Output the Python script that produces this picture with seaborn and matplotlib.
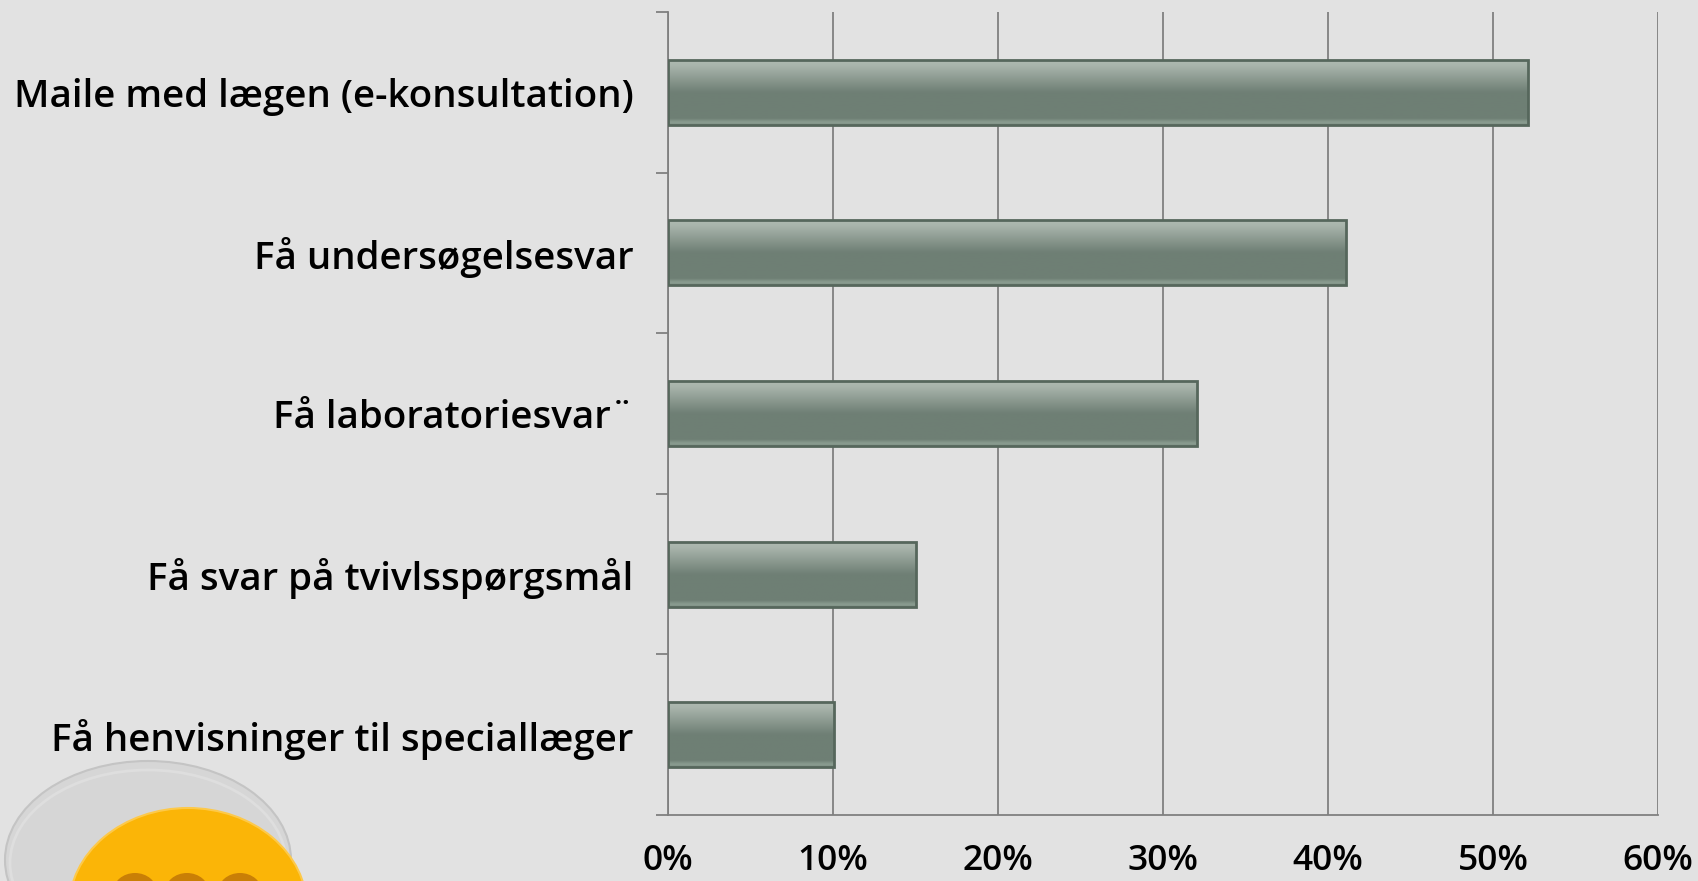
import numpy as np
import pandas as pd
import matplotlib
matplotlib.use("Agg")
import matplotlib.pyplot as plt
import seaborn as sb
from matplotlib.colors import LinearSegmentedColormap
from matplotlib.patches import Ellipse
from matplotlib.ticker import FixedLocator

categories = ["Maile med lægen (e-konsultation)", "Få undersøgelsesvar", "Få laboratoriesvar¨",
              "Få svar på tvivlsspørgsmål", "Få henvisninger til speciallæger"]
values = [52.1, 41.1, 32.05, 15.05, 10.05]
xticks = [0, 10, 20, 30, 40, 50, 60]

W, H = 1698, 881
BG = "#e2e2e2"
GRID = "#808080"

sb.set_theme(style="white")
plt.rcParams["font.family"] = ["Open Sans", "DejaVu Sans"]

df = pd.DataFrame({"category": categories, "value": values})

fig = plt.figure(figsize=(W / 100, H / 100), dpi=100, facecolor=BG)
ax = fig.add_axes([668 / W, 1 - 815 / H, 990 / W, 803 / H])
ax.set_facecolor("none")

sb.barplot(data=df, x="value", y="category", color="#6e7f74", width=0.405, ax=ax,
           edgecolor="#56675c", linewidth=2, zorder=3)

# glossy bar fill
barCmap = LinearSegmentedColormap.from_list("bar", [(0, "#b0bbb2"), (0.1, "#a8b4ab"), (0.5, "#6f7f75"),
                                                    (0.9, "#6e7f74"), (0.96, "#8a9c90"), (1, "#7f9185")])
grad = np.linspace(0, 1, 128).reshape(-1, 1)
for bar in ax.patches:
  im = ax.imshow(grad, cmap=barCmap, aspect="auto", zorder=2.9,
                 extent=[bar.get_x(), bar.get_x() + bar.get_width(),
                         bar.get_y() + bar.get_height(), bar.get_y()])
  im.set_clip_path(bar)
  bar.set_facecolor("none")

ax.set_xlim(0, 60)
ax.set_ylim(4.5, -0.5)
ax.set_xlabel("")
ax.set_ylabel("")

ax.set_xticks(xticks)
ax.set_xticklabels([f"{v}%" for v in xticks])
ax.grid(axis="x", color=GRID, linewidth=1.3, zorder=1)
ax.yaxis.set_minor_locator(FixedLocator(np.arange(-0.5, 5, 1)))
ax.tick_params(axis="y", which="major", length=0, pad=25, labelsize=27.7, labelcolor="black")
ax.tick_params(axis="y", which="minor", left=True, length=8.5, width=1.3, color=GRID)
ax.tick_params(axis="x", length=0, pad=21, labelsize=25.5, labelcolor="black")
for label in ax.get_yticklabels() + ax.get_xticklabels():
  label.set_fontweight("semibold")

sb.despine(ax=ax, top=True, right=True)
ax.spines["left"].set_color(GRID)
ax.spines["bottom"].set_color(GRID)
ax.spines["left"].set_linewidth(1.3)
ax.spines["bottom"].set_linewidth(1.3)

# speech bubble picture in the corner, in pixel coordinates
deco = fig.add_axes([0, 0, 1, 1], zorder=5)
deco.set_xlim(0, W)
deco.set_ylim(H, 0)
deco.axis("off")
deco.add_patch(Ellipse((148, 860), 286, 198, facecolor="#d6d6d6", edgecolor="#c4c4c4", linewidth=1.5))
deco.add_patch(Ellipse((148, 863), 276, 186, facecolor="none", edgecolor="#dedede", linewidth=2))
deco.add_patch(Ellipse((188, 908), 238, 200, facecolor="#fbb507", edgecolor="#fdc94a", linewidth=1.5))
for cx in (135, 187, 240):
  deco.add_patch(Ellipse((cx, 892), 44, 38, facecolor="#c97f06", edgecolor="none"))

fig.savefig("out.png", dpi=100, facecolor=BG)
